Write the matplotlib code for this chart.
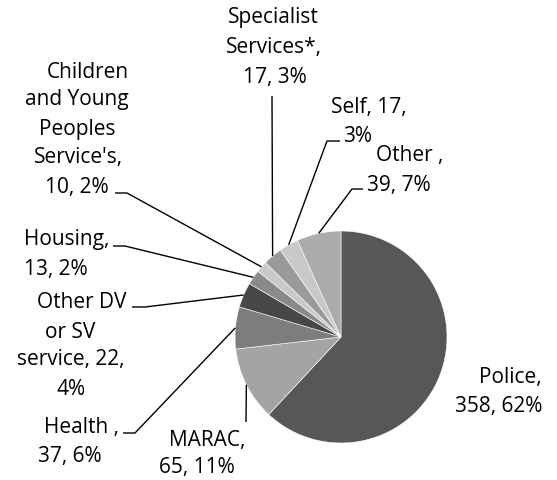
import numpy as np
import matplotlib
matplotlib.use("Agg")
import matplotlib.pyplot as plt

# ---- data ----
categories = ["Police", "MARAC", "Health ", "Other DV or SV service", "Housing",
              "Children and Young Peoples Service's", "Specialist Services*", "Self", "Other "]
values = [358, 65, 37, 22, 13, 10, 17, 17, 39]
colors = ["#575757", "#a4a4a4", "#7d7d7d", "#474747", "#8a8a8a",
          "#c9c9c9", "#9a9a9a", "#c9c9c9", "#ababab"]

# words per wrapped line for each label
wraps = [[1, 2], [1, 2], [2, 2], [2, 2, 2, 1], [1, 2], [1, 2, 1, 1, 2], [1, 1, 2], [2, 1], [2, 2]]

# ---- layout (pixel coords, origin top-left) ----
W, H = 557, 481
CX, CY, R = 341, 338, 106
line_pos = [
    [(510, 378), (499, 407)],
    [(207, 441), (197, 468)],
    [(81, 428), (70, 457)],
    [(82, 302), (70, 332), (71, 360), (71, 390)],
    [(67, 240), (56, 270)],
    [(88, 72), (77, 100), (77, 130), (78, 158), (77, 188)],
    [(273, 18), (274, 47), (275, 77)],
    [(369, 107), (358, 136)],
    [(410, 155), (399, 185)],
]
# leader: list of points from label side; final point is slice edge (None = no leader)
leaders = [
    None,
    [(246, 423)],
    [(123, 434), (135, 434)],
    [(132, 308), (145, 308)],
    [(113, 247), (125, 247)],
    [(115, 194), (127, 194)],
    [(272, 97)],
    [(340, 142), (327, 142)],
    [(363, 190), (352, 190)],
]

fig = plt.figure(figsize=(W / 100, H / 100), dpi=100)
ax = fig.add_axes([0, 0, 1, 1])

def Y(y):
    return H - y

ax.pie(values, colors=colors, startangle=90, counterclock=False,
       center=(CX, Y(CY)), radius=R,
       wedgeprops=dict(edgecolor="white", linewidth=0.4))
ax.set_xlim(0, W)
ax.set_ylim(0, H)
ax.set_aspect("equal")
ax.axis("off")

total = sum(values)
cum = 0
for i, (cat, v) in enumerate(zip(categories, values)):
    pct = round(v / total * 100)
    words = f"{cat}, {v}, {pct}%".split(" ")
    lines, k = [], 0
    for n in wraps[i]:
        lines.append(" ".join(words[k:k + n]))
        k += n
    for txt, (x, y) in zip(lines, line_pos[i]):
        ax.text(x, Y(y), txt, ha="center", va="center", fontsize=15,
                family="Open Sans", color="black")
    mid = np.deg2rad((cum + v / 2) / total * 360)
    cum += v
    if leaders[i] is not None:
        ex = CX + R * np.sin(mid)
        ey = CY - R * np.cos(mid)
        pts = leaders[i] + [(ex, ey)]
        ax.plot([p[0] for p in pts], [Y(p[1]) for p in pts], color="black", lw=1.0,
                solid_capstyle="butt")

fig.savefig("out.png", dpi=100)
